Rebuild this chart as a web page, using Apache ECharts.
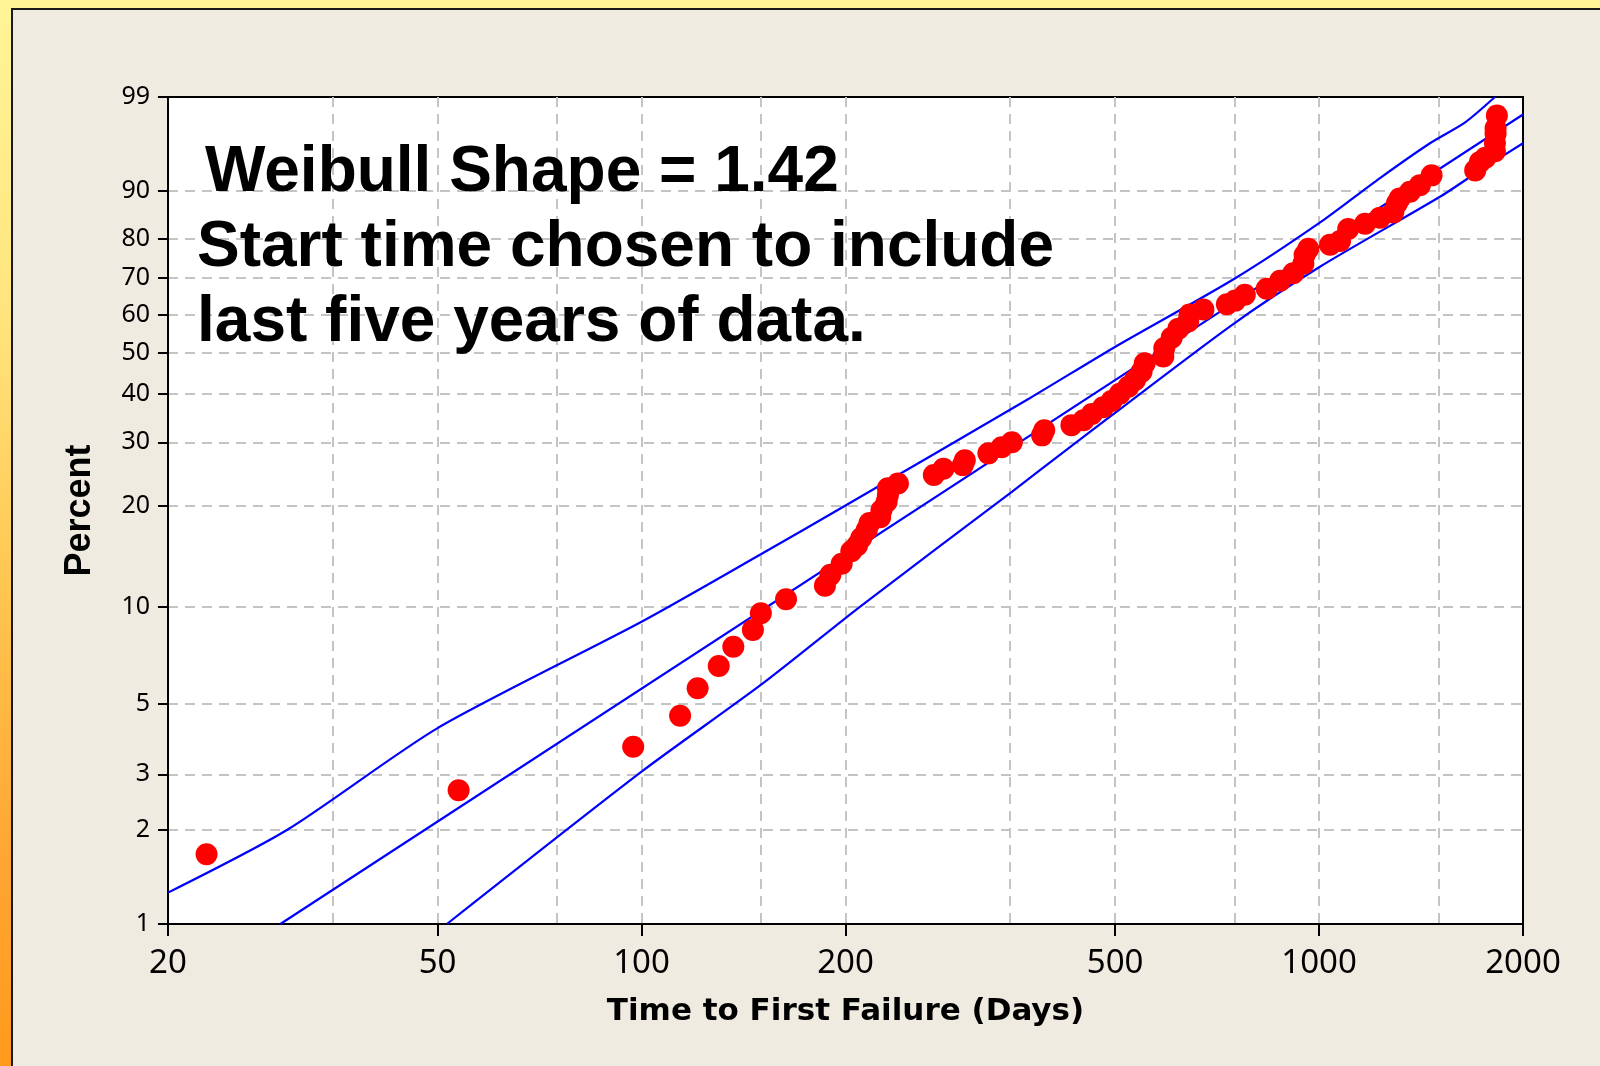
<!DOCTYPE html>
<html>
<head>
<meta charset="utf-8">
<title>Weibull probability plot</title>
<script src="https://cdn.jsdelivr.net/npm/echarts@6.0.0/dist/echarts.min.js"></script>
<style>
  html, body { margin: 0; padding: 0; width: 1600px; height: 1066px; overflow: hidden; }
  #frame {
    position: absolute; left: 0; top: 0; width: 1600px; height: 1066px;
    background: linear-gradient(to bottom, #FFF597 0%, #FFE47C 30%, #FFC650 55%, #FFA634 80%, #FF9A1C 100%);
  }
  #panel {
    position: absolute; left: 11px; top: 8px; right: 0; bottom: 0;
    background: #EFEBE0;
    border-left: 2px solid #1a1a1a; border-top: 2px solid #1a1a1a;
  }
  #chart { position: absolute; left: 0; top: 0; width: 1600px; height: 1066px; }
</style>
</head>
<body>
<div id="frame"></div>
<div id="panel"></div>
<div id="chart"></div>
<script>
// Failure times (days) and their plotting positions (percent failed)
const failDays = [22.8, 53.7, 97.2, 114, 121, 130, 136.6, 146, 150, 163.4,
  186.5, 190, 197.4, 204, 208, 211, 215, 217, 225, 226,
  230, 231, 231, 239, 270, 279, 298, 300, 325, 340,
  352, 390, 393, 431, 449, 462, 480, 494, 508, 523,
  535, 547, 553, 589, 591, 606, 620, 641, 644, 675,
  731, 752, 777, 837, 876, 916, 948, 952, 964, 1038,
  1074, 1104, 1169, 1230, 1287, 1303, 1315, 1362, 1409, 1466,
  1700, 1728, 1760, 1818, 1818, 1822, 1822, 1830];
const failPct = [1.67, 2.67, 3.67, 4.59, 5.6, 6.57, 7.54, 8.5, 9.56, 10.55,
  11.6, 12.5, 13.5, 14.7, 15.3, 16.1, 17.0, 17.8, 18.5, 19.4,
  20.5, 21.4, 22.4, 23.1, 24.4, 25.4, 26.0, 26.8, 28.0, 29.1,
  30.0, 31.3, 32.3, 33.3, 34.3, 35.6, 37.0, 38.4, 40.0, 41.6,
  43.2, 45.2, 47.3, 49.0, 51.2, 53.9, 56.3, 58.2, 60.1, 61.5,
  62.9, 63.9, 65.5, 67.1, 69.3, 71.3, 73.8, 76.0, 77.6, 78.6,
  79.5, 82.3, 83.5, 84.8, 85.9, 87.7, 88.6, 89.8, 90.9, 92.4,
  93.1, 94.2, 94.7, 95.4, 96.2, 97.0, 97.4, 98.2];

// Fitted Weibull line (shape 1.42)
const fitDays = [29.3, 747, 2000];
const fitPct = [1.0, 63.2, 98.25];

// Confidence bounds around the fit
const upperDays = [20, 30, 50, 100, 150, 200, 374, 497, 750, 1000, 1230, 1458, 1643, 1818];
const upperPct = [1.26, 2.0, 4.2, 9.0, 14.4, 20.0, 39.0, 51.2, 69.8, 83.6, 92.0, 96.2, 97.8, 99.0];
const lowerDays = [51.6, 100, 151, 210, 352, 429, 740, 1003, 1508, 1728, 2000];
const lowerPct = [1.0, 3.06, 5.8, 10.0, 21.9, 29.1, 57.0, 73.0, 88.9, 93.1, 96.2];

// Axis ticks
const xTickDays = [20, 50, 100, 200, 500, 1000, 2000];
const xGridDays = [35, 50, 75, 100, 150, 200, 350, 500, 750, 1000, 1500];
const yTickPct = [1, 2, 3, 5, 10, 20, 30, 40, 50, 60, 70, 80, 90, 99];
const yGridPct = [2, 3, 5, 10, 20, 30, 40, 50, 60, 70, 80, 90];

const noteLines = ['Weibull Shape = 1.42', 'Start time chosen to include', 'last five years of data.'];

// Weibull probability paper: x = log10(t), y = ln(-ln(1 - F))
const lg = t => Math.log10(t);
const weib = p => Math.log(-Math.log(1 - p / 100));
const unWeib = v => 100 * (1 - Math.exp(-Math.exp(v)));
const pairs = (ts, ps) => ts.map((t, i) => [lg(t), weib(ps[i])]);

const gridLine = { show: true, lineStyle: { color: '#C4C4C4', width: 2, type: [10, 7] } };
const black = '#000';
const noteFont = 'bold 64px "Liberation Sans", Arial, sans-serif';

const chart = echarts.init(document.getElementById('chart'), null, { renderer: 'canvas' });

const blueLine = (name, data, smooth) => ({
  type: 'line', name, data, smooth,
  showSymbol: false, symbol: 'none', z: 2, clip: true,
  lineStyle: { color: '#0000FF', width: 2.2 }
});

chart.setOption({
  animation: false,
  backgroundColor: 'transparent',
  grid: {
    left: 168, right: 77, top: 97, bottom: 142,
    show: true, backgroundColor: '#FFFFFF', borderColor: black, borderWidth: 2
  },
  xAxis: [
    {
      type: 'value', min: lg(20), max: lg(2000), position: 'bottom',
      axisLine: { show: true, onZero: false, lineStyle: { color: black, width: 2 } },
      axisTick: { show: true, customValues: xTickDays.map(lg), length: 12, lineStyle: { color: black, width: 2 } },
      axisLabel: {
        show: true, customValues: xTickDays.map(lg), margin: 23,
        formatter: v => String(Math.round(Math.pow(10, v))),
        fontFamily: 'Noto Sans', fontSize: 33, color: black
      },
      splitLine: { show: false },
      name: 'Time to First Failure (Days)', nameLocation: 'middle', nameGap: 72,
      nameTextStyle: { fontFamily: 'DejaVu Sans', fontWeight: 'bold', fontSize: 31, color: black }
    },
    {
      type: 'value', min: lg(20), max: lg(2000), position: 'top',
      axisLine: { show: false },
      axisTick: { show: false, customValues: xGridDays.map(lg) },
      axisLabel: { show: false },
      splitLine: gridLine
    }
  ],
  yAxis: [
    {
      type: 'value', min: weib(1), max: weib(99), position: 'left',
      axisLine: { show: true, onZero: false, lineStyle: { color: black, width: 2 } },
      axisTick: { show: true, customValues: yTickPct.map(weib), length: 10, lineStyle: { color: black, width: 2 } },
      axisLabel: {
        show: true, customValues: yTickPct.map(weib), margin: 18,
        formatter: v => String(Math.round(unWeib(v))),
        fontFamily: 'Noto Sans', fontSize: 25, color: black
      },
      splitLine: { show: false },
      name: 'Percent', nameLocation: 'middle', nameGap: 70, nameRotate: 90,
      nameTextStyle: { fontFamily: 'Liberation Sans', fontWeight: 'bold', fontSize: 36, color: black }
    },
    {
      type: 'value', min: weib(1), max: weib(99), position: 'right',
      axisLine: { show: false },
      axisTick: { show: false, customValues: yGridPct.map(weib) },
      axisLabel: { show: false },
      splitLine: gridLine
    }
  ],
  series: [
    blueLine('upper', pairs(upperDays, upperPct), 0.25),
    blueLine('fit', pairs(fitDays, fitPct), false),
    blueLine('lower', pairs(lowerDays, lowerPct), 0.25),
    {
      type: 'scatter', name: 'failures', data: pairs(failDays, failPct),
      symbol: 'circle', symbolSize: 22, z: 3,
      itemStyle: { color: '#FF0000', opacity: 1 }
    }
  ],
  graphic: [
    { type: 'text', left: 205, top: 141, z: 10,
      style: { text: noteLines[0], font: noteFont, fill: black } },
    { type: 'text', left: 197, top: 216, z: 10,
      style: { text: noteLines[1], font: noteFont, fill: black } },
    { type: 'text', left: 197, top: 291, z: 10,
      style: { text: noteLines[2], font: noteFont, fill: black } }
  ]
});
</script>
</body>
</html>
